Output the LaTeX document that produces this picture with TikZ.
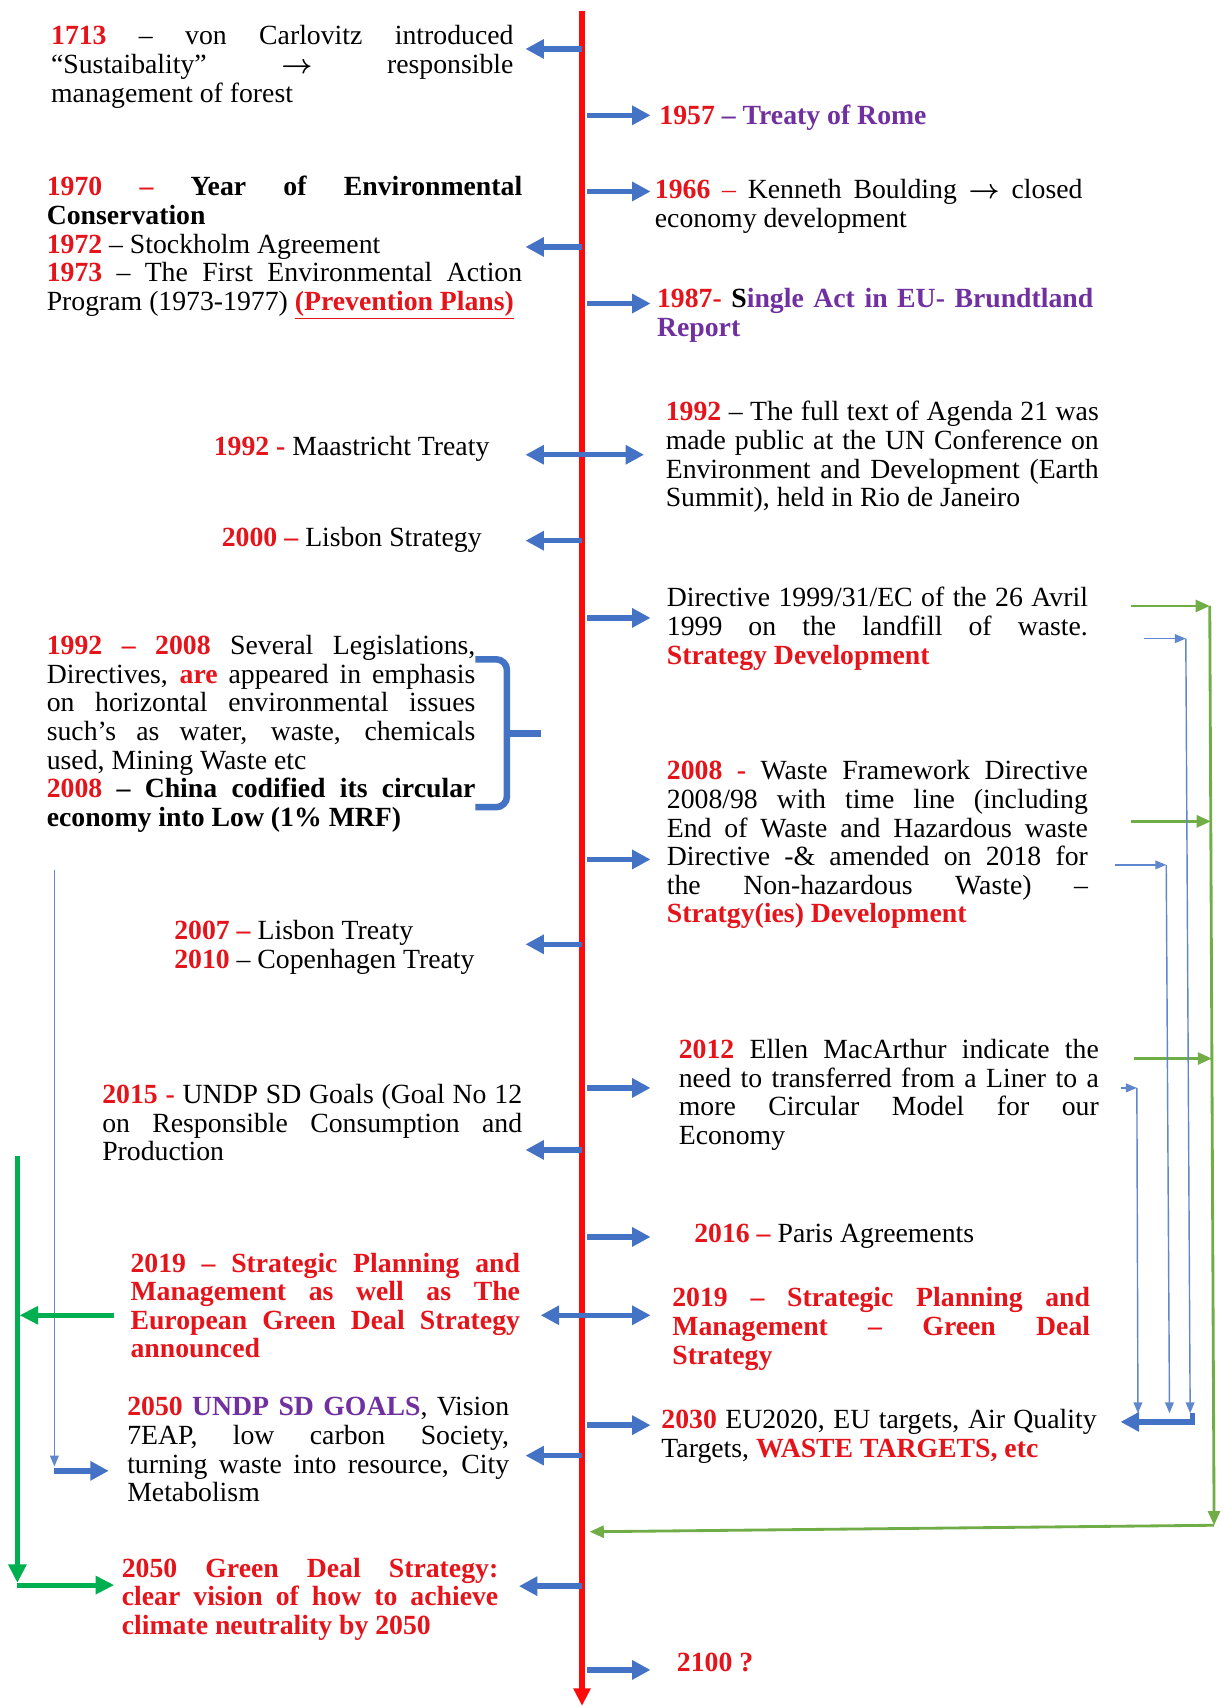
\documentclass[tikz,border=0pt]{standalone}
\usepackage{fontspec}
\setmainfont{Liberation Serif}
\usetikzlibrary{arrows.meta}
\definecolor{tred}{HTML}{E5141B}
\definecolor{lred}{HTML}{FF0A0A}
\definecolor{tpurple}{HTML}{7030A0}
\definecolor{ablue}{HTML}{4472C4}
\definecolor{lgreen}{HTML}{70AD47}
\definecolor{dgreen}{HTML}{00B050}
\newcommand{\yr}[1]{\textcolor{tred}{\textbf{#1}}}
\newcommand{\pu}[1]{\textcolor{tpurple}{\textbf{#1}}}
\newcommand{\fs}{\fontsize{25.5}{26.3}\selectfont\spaceskip=.25em plus .6em minus .12em}
\hyphenpenalty=10000
\exhyphenpenalty=10000

\tikzset{
  txt/.style={inner sep=0pt, font=\fs, text width=#1, align=justify},
  lbl/.style={inner sep=0pt, font=\fs},
  barrow/.style={ablue, line width=5pt, -{Triangle[length=17pt,width=17pt]}},
  bdouble/.style={ablue, line width=5pt, {Triangle[length=17pt,width=17pt]}-{Triangle[length=17pt,width=17pt]}},
  thinb/.style={ablue!85, line width=1.3pt, -{Triangle[length=10pt,width=8pt]}},
  thing/.style={lgreen, line width=2.6pt, -{Triangle[length=13pt,width=11pt]}},
  thickg/.style={dgreen, line width=4.5pt, -{Triangle[length=17pt,width=16pt]}},
}

\begin{document}
\begin{tikzpicture}[x=1pt, y=-1pt]
\useasboundingbox[fill=white] (0,0) rectangle (1125,1570);

% time line
\coordinate (ttop) at (535,10);
\coordinate (tbot) at (535,1568);
\draw[lred, line width=5pt, -{Triangle[length=16pt,width=15pt]}] (ttop) -- (tbot);

% left side
\node[txt=425pt] (n1713) at (259.5,61.5) {\yr{1713} -- von Carlovitz introduced\linebreak ``Sustaibality'' {\boldmath$\rightarrow$} responsible\linebreak management of forest};
\node[txt=437pt] (n1970) at (261.5,227.5) {\yr{1970 --} \textbf{Year of Environmental\linebreak Conservation}\newline \yr{1972} -- Stockholm Agreement\newline \yr{1973} -- The First Environmental Action\linebreak Program (1973-1977) \textcolor{tred}{\textbf{\underline{(Prevention Plans)}}}\parfillskip=0pt};
\node[lbl, anchor=east] (nMaas) at (450,413) {\yr{1992 -} Maastricht Treaty};
\node[lbl, anchor=east] (nLisS) at (443,496) {\yr{2000 --} Lisbon Strategy};
\node[txt=394pt] (nLeg) at (240,674.5) {\yr{1992 -- 2008} Several Legislations,\linebreak Directives, \yr{are} appeared in emphasis\linebreak on horizontal environmental issues\linebreak such's as water, waste, chemicals\linebreak used, Mining Waste etc\newline \yr{2008} \textbf{-- China codified its circular\linebreak economy into Low (1\% MRF)}};
\node[lbl, anchor=west, align=left] (nTreat) at (160,871) {\yr{2007 --} Lisbon Treaty\\ \yr{2010} -- Copenhagen Treaty};
\node[txt=386pt] (n2015) at (287,1032) {\yr{2015 -} UNDP SD Goals (Goal No 12\linebreak on Responsible Consumption and\linebreak Production};
\node[txt=358pt, text=tred, font=\fs\bfseries] (n2019L) at (299,1200) {2019 -- Strategic Planning and\linebreak Management as well as The\linebreak European Green Deal Strategy\linebreak announced};
\node[txt=351pt] (n2050a) at (292.5,1332.5) {\yr{2050} \pu{UNDP SD GOALS}, Vision\linebreak 7EAP, low carbon Society,\linebreak turning waste into resource, City\linebreak Metabolism};
\node[txt=346pt, text=tred, font=\fs\bfseries] (n2050b) at (285,1470) {2050 Green Deal Strategy:\linebreak clear vision of how to achieve\linebreak climate neutrality by 2050};

% right side
\node[lbl, anchor=west] (n1957) at (606,108) {\yr{1957} \pu{-- Treaty of Rome}};
\node[txt=393pt] (n1966) at (798.5,189.5) {\yr{1966} \textcolor{tred}{--} Kenneth Boulding {\boldmath$\rightarrow$} closed\linebreak economy development};
\node[txt=401pt] (n1987) at (804.5,290) {\yr{1987-} \textbf{S}\pu{ingle Act in EU- Brundtland\linebreak Report}};
\node[txt=398pt] (n1992) at (811,420) {\yr{1992} -- The full text of Agenda 21 was\linebreak made public at the UN Conference on\linebreak Environment and Development (Earth\linebreak Summit), held in Rio de Janeiro};
\node[txt=387pt] (nDir) at (806.5,578) {Directive 1999/31/EC of the 26 Avril\linebreak 1999 on the landfill of waste.\linebreak \yr{Strategy Development}};
\node[txt=387pt] (nWFD) at (806.5,776.5) {\yr{2008 -} Waste Framework Directive\linebreak 2008/98 with time line (including\linebreak End of Waste and Hazardous waste\linebreak Directive -\& amended on 2018 for\linebreak the Non-hazardous Waste) --\linebreak \yr{Stratgy(ies) Development}};
\node[txt=386pt] (n2012) at (817,1006.5) {\yr{2012} Ellen MacArthur indicate the\linebreak need to transferred from a Liner to a\linebreak more Circular Model for our\linebreak Economy};
\node[lbl, anchor=west] (n2016) at (638,1136) {\yr{2016 --} Paris Agreements};
\node[txt=384pt, text=tred, font=\fs\bfseries] (n2019R) at (810,1221.5) {2019 -- Strategic Planning and\linebreak Management -- Green Deal\linebreak Strategy};
\node[txt=400pt] (n2030) at (808,1320.5) {\yr{2030} EU2020, EU targets, Air Quality\linebreak Targets, \yr{WASTE TARGETS, etc}};
\node[lbl, anchor=west] (n2100) at (622,1528) {\yr{2100 ?}};

% arrows off the time line
\foreach \y in {45,227,497,868,1057,1338}
  \draw[barrow] (535,\y) -- (483,\y);
\draw[barrow] (535,1458) -- (477,1458);
\foreach \y in {106,176,279,568,790,1000,1137,1310,1535}
  \draw[barrow] (540,\y) -- (598,\y);
\draw[bdouble] (483,418) -- (592,418);
\draw[bdouble] (497,1209) -- (598,1209);

% brace
\draw[ablue, line width=6pt, rounded corners=10pt] (437,606) -- (466,606) -- (466,742) -- (437,742);
\draw[ablue, line width=6pt] (466,674) -- (497,674);

% green loop on the right
\coordinate (gtop) at (1112,557);
\coordinate (gbot) at (1116,1402);
\draw[thing] (1040,557) -- (gtop);
\draw[thing] (1040,755) -- (1113,755);
\draw[thing] (1042,973) -- (1114,973);
\draw[thing] (gtop) -- (gbot);
\draw[thing] (gbot) -- (542,1408);

% thin blue lines to 2030
\draw[thinb] (1052,587) -- (1090,587);
\draw[thinb] (1090,587) -- (1094,1299);
\draw[thinb] (1025,795) -- (1072,795);
\draw[thinb] (1072,795) -- (1075,1299);
\draw[thinb] (1030,1000) -- (1045,1000);
\draw[thinb] (1045,1000) -- (1046,1299);
\draw[barrow] (1096,1299) -- (1096,1307) -- (1030,1307);

% left side lines
\draw[thinb] (50,800) -- (50,1348);
\draw[barrow] (50,1352) -- (100,1352);
\draw[thickg] (16,1063) -- (16,1455);
\draw[thickg] (105,1209) -- (18,1209);
\draw[thickg] (16,1457) -- (105,1457);
\end{tikzpicture}
\end{document}
